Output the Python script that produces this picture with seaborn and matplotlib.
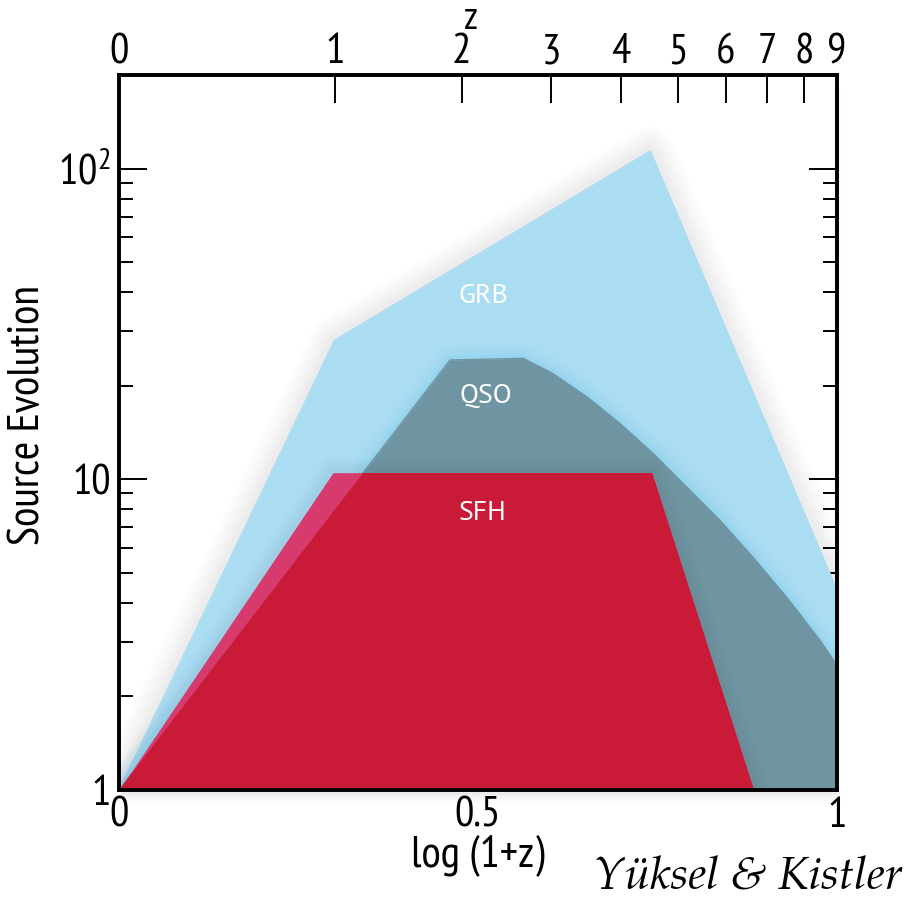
import numpy as np
import matplotlib
matplotlib.use("Agg")
import matplotlib.pyplot as plt
import seaborn as sns
from matplotlib import font_manager as fm
from matplotlib.ticker import FixedLocator, LogLocator, NullFormatter, FixedFormatter
from matplotlib.patches import Rectangle

# ---------------- data ----------------
grb_x = [0.0, 0.30, 0.74, 1.0]
grb_y = [1.0, 28.0, 114.0, 4.4]

qso_x = [0.0, 0.461, 0.563, 0.604, 0.652, 0.698, 0.744, 0.791, 0.837, 0.883, 0.930, 0.976, 1.0]
qso_y = [1.0, 24.2, 24.5, 21.9, 18.4, 15.1, 12.1, 9.43, 7.38, 5.61, 4.17, 3.04, 2.52]

sfh_x = [0.0, 0.298, 0.742, 0.884]
sfh_y = [1.0, 10.5, 10.5, 1.0]

region_names = ["GRB", "QSO", "SFH"]
region_label_x = [0.508, 0.511, 0.507]
region_label_y = [38.8, 18.6, 7.8]

x_tick_vals = [0.0, 0.5, 1.0]
x_tick_labels = ["0", "0.5", "1"]
y_tick_vals = [1, 10, 100]
z_vals = [0, 1, 2, 3, 4, 5, 6, 7, 8, 9]

# ---------------- style ----------------
sns.set_theme(style="ticks")
available = {f.name for f in fm.fontManager.ttflist}
def pick(cands, default):
    return next((c for c in cands if c in available), default)

COND_FONT = pick(["PT Sans Narrow", "Roboto Condensed", "Fira Sans Condensed",
                  "Open Sans Condensed", "Liberation Sans Narrow", "Archivo Narrow"], "DejaVu Sans")
SERIF_FONT = pick(["TeX Gyre Pagella", "P052", "URW Palladio L", "Palatino Linotype",
                   "Liberation Serif"], "DejaVu Serif")
LABEL_FONT = pick(["PT Sans", "Open Sans"], "DejaVu Sans")

plt.rcParams["font.family"] = [COND_FONT, "DejaVu Sans"]
plt.rcParams["mathtext.fontset"] = "custom"
plt.rcParams["mathtext.rm"] = COND_FONT
plt.rcParams["mathtext.it"] = COND_FONT
plt.rcParams["text.color"] = "black"
plt.rcParams["axes.labelcolor"] = "black"
plt.rcParams["xtick.color"] = "black"
plt.rcParams["ytick.color"] = "black"
y_tick_labels = ["1", "10", r"$\mathregular{10^2}$"]

C_GRB = "#aadcf2"
C_QSO = "#6f94a2"
C_SFH = "#c91a37"
C_PINK = "#d73a6c"

fig = plt.figure(figsize=(9.07, 9.02), dpi=100)
fig.patch.set_facecolor("white")
L, B = 119 / 907, 1 - 790 / 902
W, H = (837 - 119) / 907, (790 - 75) / 902

# soft shadow of the frame
for k, a in enumerate([0.04, 0.03, 0.02, 0.015, 0.01]):
    off = 2 + 3 * k
    fig.patches.append(Rectangle((L + off / 907 * 0.3, B - off / 902), W, H,
                                 transform=fig.transFigure, facecolor="black",
                                 edgecolor="none", alpha=a, zorder=-5))

ax = fig.add_axes([L, B, W, H])
ax.set_facecolor("white")
ax.set_yscale("log")
ax.set_xlim(0, 1)
ax.set_ylim(1, 200)

# GRB soft shadow + fill
for lw in [34, 26, 19, 13, 8]:
    ax.fill_between(grb_x, 1, grb_y, facecolor="none", edgecolor=(0.2, 0.2, 0.2, 0.016),
                    lw=lw, zorder=1)
ax.fill_between(grb_x, 1, grb_y, color=C_GRB, lw=0, zorder=2)
sns.lineplot(x=grb_x, y=grb_y, color=C_GRB, lw=1, ax=ax, zorder=2)

# QSO glow + fill
for lw, a in [(20, 0.10), (12, 0.15), (6, 0.22)]:
    sns.lineplot(x=qso_x, y=qso_y, color="#7fcdef", lw=lw, alpha=a, ax=ax, zorder=3)
qso_poly = ax.fill_between(qso_x, 1, qso_y, color=C_QSO, lw=0, zorder=4)
sns.lineplot(x=qso_x, y=qso_y, color=C_QSO, lw=1, ax=ax, zorder=4)

# SFH: pink where it rises above the QSO region, crimson inside it
for lw in [20, 13, 7]:
    ax.fill_between(sfh_x, 1, sfh_y, facecolor="none", edgecolor=(0.2, 0.2, 0.2, 0.02),
                    lw=lw, zorder=4.5)
ax.fill_between(sfh_x, 1, sfh_y, color=C_PINK, lw=0, zorder=5)
sfh_red = ax.fill_between(sfh_x, 1, sfh_y, color=C_SFH, lw=0, zorder=6)
sfh_red.set_clip_path(qso_poly.get_paths()[0], ax.transData)

for name, lx, ly in zip(region_names, region_label_x, region_label_y):
    ax.text(lx, ly, name, color="white", fontsize=20, family=[LABEL_FONT, "DejaVu Sans"],
            ha="center", va="center", zorder=10)

# ---------------- axes / ticks ----------------
for s in ax.spines.values():
    s.set_linewidth(2.6)
    s.set_color("black")
    s.set_zorder(20)

ax.xaxis.set_major_locator(FixedLocator(x_tick_vals))
ax.xaxis.set_major_formatter(FixedFormatter(x_tick_labels))
ax.xaxis.set_minor_locator(FixedLocator(np.arange(1, 10) / 10))
ax.yaxis.set_major_locator(FixedLocator(y_tick_vals))
ax.yaxis.set_major_formatter(FixedFormatter(y_tick_labels))
ax.yaxis.set_minor_locator(LogLocator(base=10, subs=np.arange(2, 10)))
ax.yaxis.set_minor_formatter(NullFormatter())

ax.tick_params(axis="x", which="major", direction="in", length=18, width=1.4,
               bottom=True, top=False, labelsize=31, pad=5, colors="black")
ax.tick_params(axis="x", which="minor", direction="in", length=9, width=1.4,
               bottom=True, top=False)
ax.tick_params(axis="y", which="major", direction="in", length=20, width=1.4,
               left=True, right=True, labelsize=31, pad=6, colors="black")
ax.tick_params(axis="y", which="minor", direction="in", length=10, width=1.4,
               left=True, right=True)

ax.set_xlabel("log (1+z)", fontsize=32, va="center")
ax.xaxis.set_label_coords(0.5, -0.091)
ax.set_ylabel("Source Evolution", fontsize=32, va="center")
ax.yaxis.set_label_coords(-0.127, 0.524)

# top z axis
ax2 = ax.twiny()
ax2.set_xlim(0, 1)
ax2.xaxis.set_major_locator(FixedLocator(np.log10(1 + np.array(z_vals))))
ax2.xaxis.set_major_formatter(FixedFormatter([str(z) for z in z_vals]))
ax2.tick_params(axis="x", which="major", direction="in", length=20, width=1.4,
                top=True, bottom=False, labeltop=True, labelbottom=False,
                labelsize=31, pad=2, colors="black")
ax2.tick_params(axis="x", which="minor", top=False, bottom=False)
for s in ax2.spines.values():
    s.set_linewidth(2.6)
    s.set_color("black")
ax2.xaxis.set_label_position("top")
ax2.set_xlabel("z", fontsize=28, va="center")
ax2.xaxis.set_label_coords(0.49, 1.077)

fig.text(903 / 907, 1 - 889 / 902, "Yüksel & Kistler", ha="right", va="baseline",
         fontsize=33, style="italic", family=[SERIF_FONT, "DejaVu Serif"],
         color="black")

fig.savefig("out.png", dpi=100, facecolor="white")
